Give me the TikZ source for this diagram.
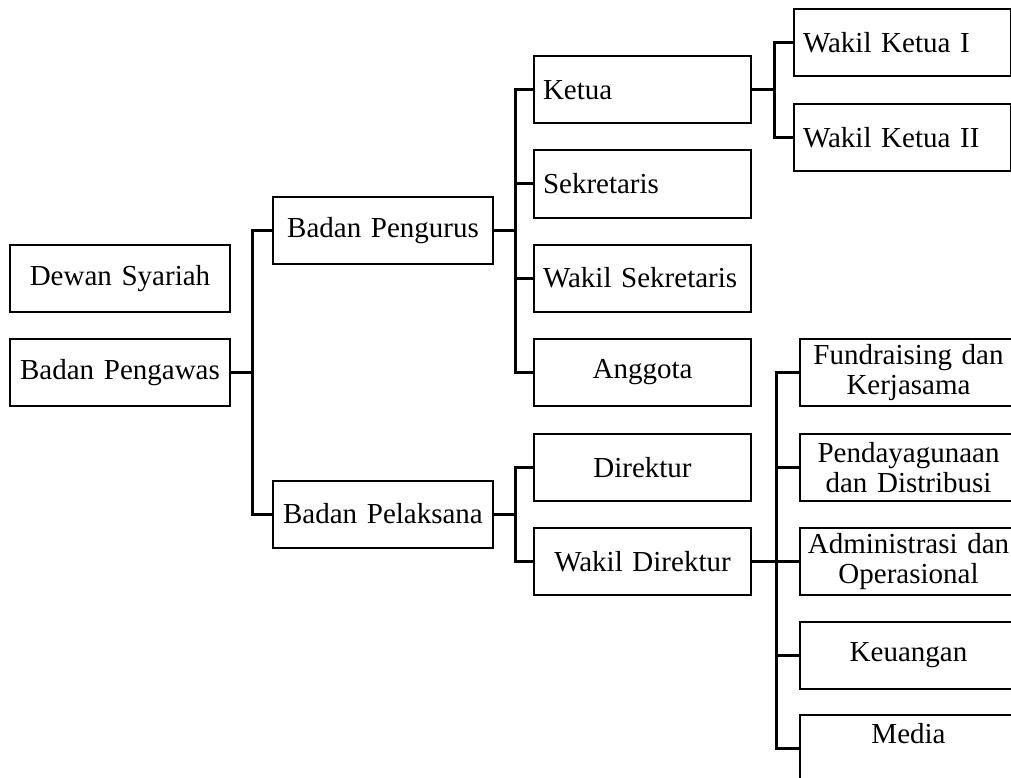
\documentclass[tikz,border=0pt]{standalone}
\usepackage{fontspec}
\setmainfont{Liberation Serif}

\begin{document}
\begin{tikzpicture}[x=1pt, y=-1pt,
        box/.style={draw, line width=2pt, minimum height=67pt, inner xsep=5pt, inner ysep=0pt,
            text width=207pt, align=center, font=\fontsize{29}{30.5}\selectfont},
        leftbox/.style={box, inner xsep=9pt, text width=199pt, align=left},
        link/.style={-, line width=3pt}]
        \useasboundingbox (0,0) rectangle (1011,778);
        \clip (0,0) rectangle (1011,778);

        % left column
        \node[box, text width=210pt] (syariah) at (120,278.5) {Dewan Syariah};
        \node[box, text width=210pt] (pengawas) at (120,372.5) {Badan Pengawas};

        % second column
        \node[box, text width=210pt] (pengurus) at (383,230.5) {Badan Pengurus};
        \node[box, text width=210pt] (pelaksana) at (383,514) {Badan Pelaksana};

        % third column
        \node[leftbox] (ketua) at (642.5,90) {Ketua};
        \node[leftbox] (sekretaris) at (642.5,184) {Sekretaris};
        \node[leftbox] (wakilsek) at (642.5,278) {Wakil Sekretaris};
        \node[box] (anggota) at (642.5,372.5) {Anggota};
        \node[box] (direktur) at (642.5,467.5) {Direktur};
        \node[box] (wakildir) at (642.5,561.5) {Wakil Direktur};

        % right column
        \node[leftbox] (wakilketua1) at (902.5,42.5) {Wakil Ketua I};
        \node[leftbox] (wakilketua2) at (902.5,137.5) {Wakil Ketua II};
        \node[box] (fundraising) at (908.5,372.5) {Fundraising dan\\Kerjasama};
        \node[box] (distribusi) at (908.5,467.5) {Pendayagunaan\\dan Distribusi};
        \node[box] (operasional) at (908.5,561.5) {Administrasi dan\\Operasional};
        \node[box] (keuangan) at (908.5,655) {Keuangan};
        \node[box] (media) at (908.5,748.5) {Media\\\mbox{}};

        % connectors
        \draw[link] (pengawas.east) -- ++(21,0) |- (pengurus.west);
        \draw[link] (pengawas.east) -- ++(21,0) |- (pelaksana.west);

        \draw[link] (pengurus.east) -- ++(21,0) |- (ketua.west);
        \draw[link] (pengurus.east) -- ++(21,0) |- (sekretaris.west);
        \draw[link] (pengurus.east) -- ++(21,0) |- (wakilsek.west);
        \draw[link] (pengurus.east) -- ++(21,0) |- (anggota.west);

        \draw[link] (pelaksana.east) -- ++(21,0) |- (direktur.west);
        \draw[link] (pelaksana.east) -- ++(21,0) |- (wakildir.west);

        \draw[link] (ketua.east) -- ++(22,0) |- (wakilketua1.west);
        \draw[link] (ketua.east) -- ++(22,0) |- (wakilketua2.west);

        \draw[link] (wakildir.east) -- ++(24,0) |- (fundraising.west);
        \draw[link] (wakildir.east) -- ++(24,0) |- (distribusi.west);
        \draw[link] (wakildir.east) -- ++(24,0) |- (operasional.west);
        \draw[link] (wakildir.east) -- ++(24,0) |- (keuangan.west);
        \draw[link] (wakildir.east) -- ++(24,0) |- (media.west);
    \end{tikzpicture}
\end{document}
